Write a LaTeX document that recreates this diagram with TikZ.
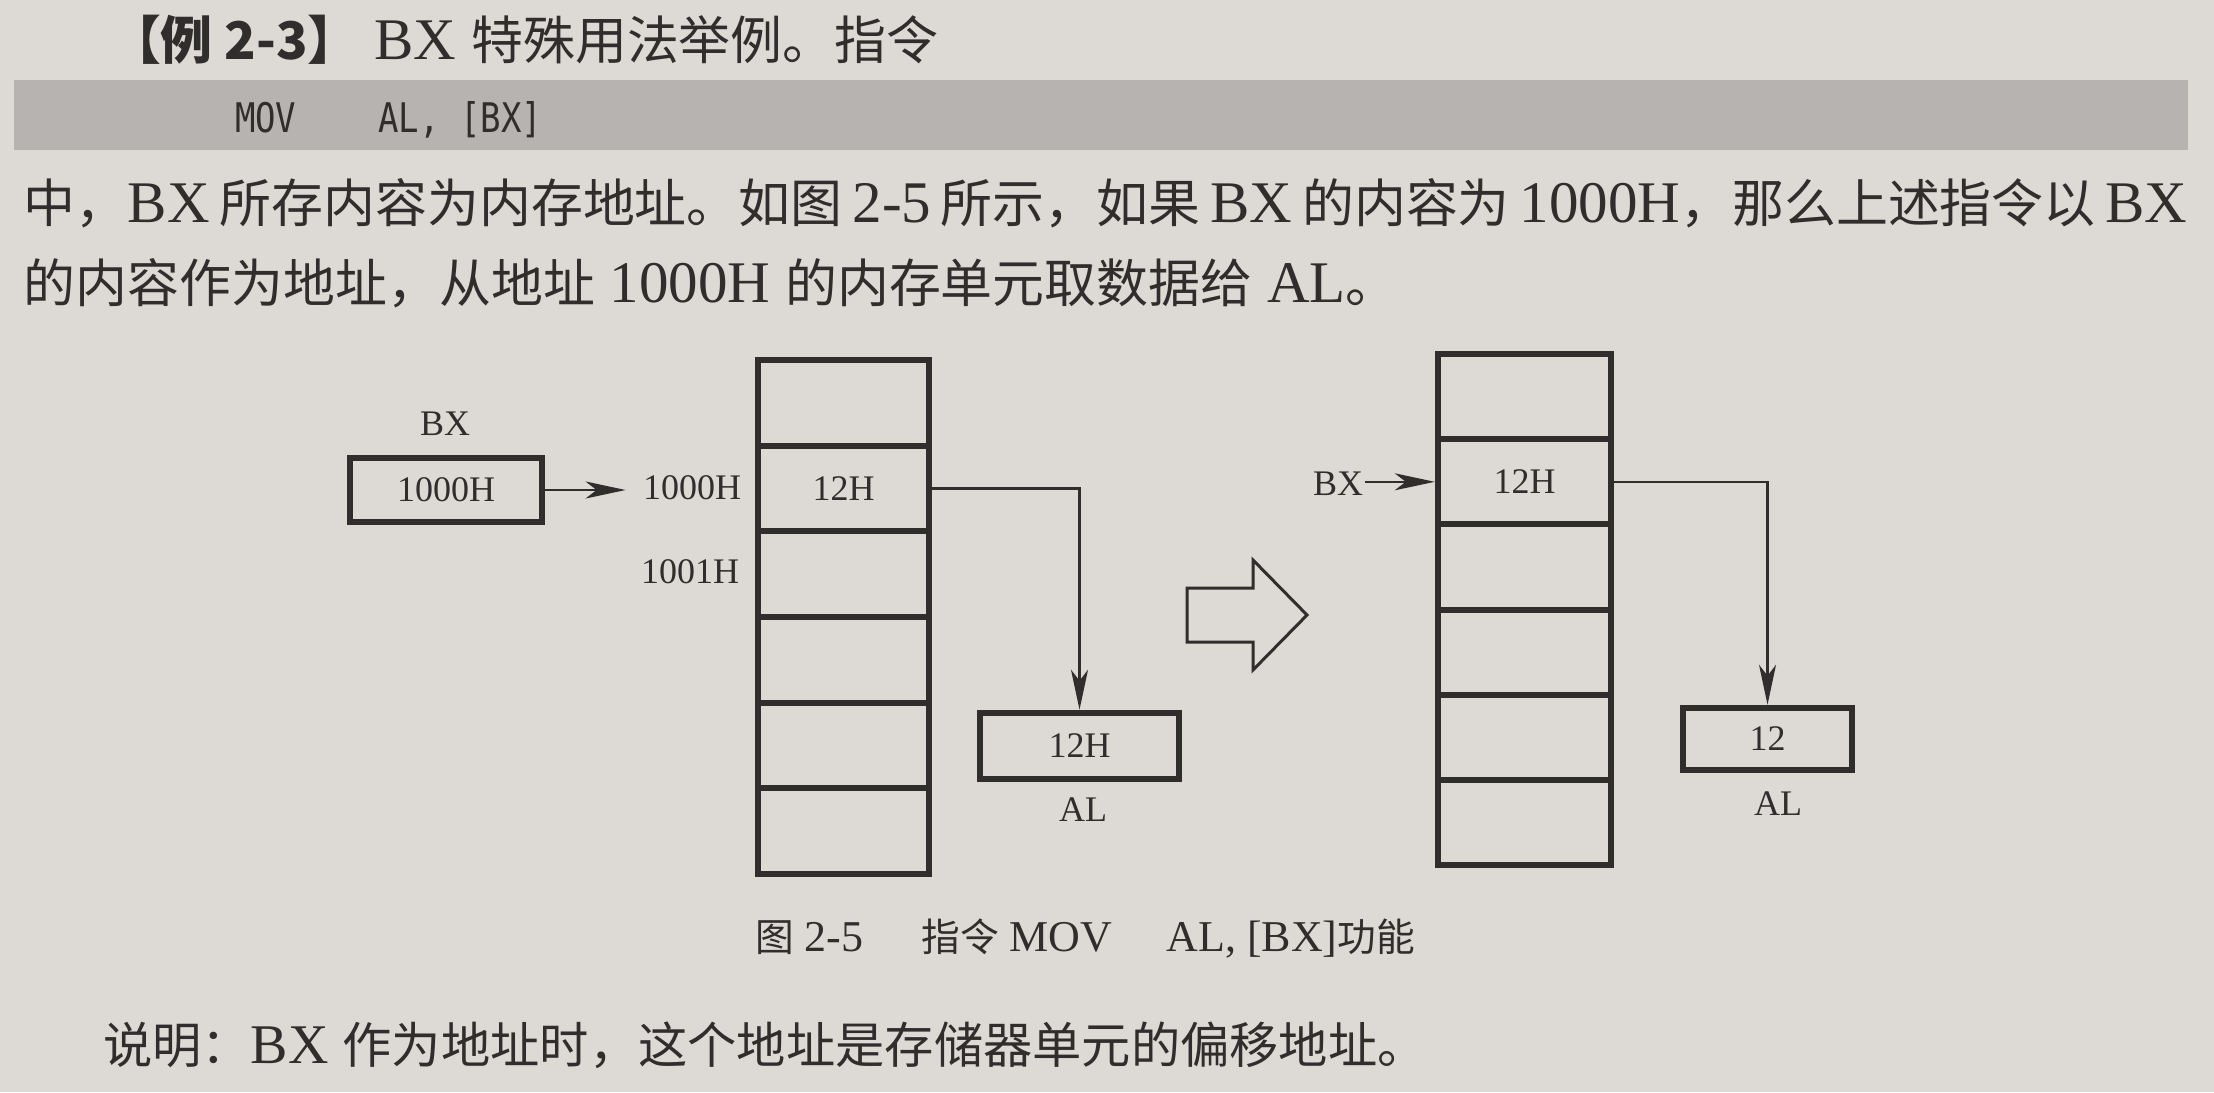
\documentclass[tikz,border=0pt]{standalone}
\usepackage{fontspec}
\usepackage{graphicx}
\setmainfont{Liberation Serif}
\newfontfamily\cjk{Noto Sans CJK SC}[Scale=0.88]
\newfontfamily\codefont{DejaVu Sans Mono}
\usetikzlibrary{arrows.meta}
\definecolor{pagebg}{RGB}{221,218,214}
\definecolor{barbg}{RGB}{182,179,176}
\definecolor{ink}{RGB}{48,45,45}
\begin{document}
\begin{tikzpicture}[x=0.5pt,y=-0.5pt,
  every node/.style={text=ink},
  txt/.style={anchor=base west, inner sep=0pt, outer sep=0pt},
  body/.style={font=\fontsize{29.5}{34}\selectfont},
  dfont/.style={font=\fontsize{18}{20}\selectfont},
  cellA/.style={draw=ink, line width=3pt, minimum width=85.75pt, minimum height=42.83pt, inner sep=0pt, dfont},
  cellB/.style={draw=ink, line width=3pt, minimum width=86.75pt, minimum height=42.6pt, inner sep=0pt, dfont},
  reg/.style={draw=ink, line width=3pt, inner sep=0pt, dfont},
  lbl/.style={inner sep=1pt, dfont},
  conn/.style={draw=ink, line width=1.2pt, -{Stealth[length=20pt,width=8.5pt,inset=5.5pt]}},
]
\useasboundingbox (0,0) rectangle (2214,1092);
\fill[pagebg] (0,0) rectangle (2214,1092);
\fill[barbg] (14,80) rectangle (2188,150);

% text
\node[txt, body] (title) at (109,59) {{\cjk\bfseries 【例 2-3】} BX {\cjk 特殊用法举例。指令}};
\node[txt, font=\codefont\fontsize{17}{20}\selectfont] (code) at (235,132) {\scalebox{1}[1.2]{MOV\ \ \ \ AL, [BX]}};
\node[txt, body] (line1) at (24,222) {\makebox[1081pt][s]{{\cjk 中，}BX {\cjk 所存内容为内存地址。如图} 2-5 {\cjk 所示，如果} BX {\cjk 的内容为} 1000H{\cjk ，那么上述指令以} BX}};
\node[txt, body] (line2) at (24,302) {{\cjk 的内容作为地址，从地址} 1000H {\cjk 的内存单元取数据给} AL{\cjk 。}};
\node[txt, font=\fontsize{22}{26}\selectfont] (cap) at (755,951) {{\cjk 图} 2-5\hspace{29pt}{\cjk 指令} MOV\hspace{27pt}AL, [BX]{\cjk 功能}};
\node[txt, font=\fontsize{28}{32}\selectfont] (note) at (103,1063) {{\cjk 说明：}BX {\cjk 作为地址时，这个地址是存储器单元的偏移地址。}};

% left diagram
\node[lbl] (bxlbl) at (445,424) {BX};
\node[reg, minimum width=96.25pt, minimum height=32.25pt] (bxbox) at (446,490) {1000H};
\node[lbl] (a1000) at (692,488) {1000H};
\node[lbl] (a1001) at (690,572) {1001H};
\foreach \i/\t in {1/,2/12H,3/,4/,5/,6/}
  \node[cellA] (m\i) at (843.5,{402.8+85.67*(\i-1)}) {\t};
\node[reg, minimum width=99.75pt, minimum height=33.25pt] (al1) at (1079.5,746) {12H};
\node[lbl] (al1lbl) at (1083,810) {AL};
\draw[conn, shorten >=7.5pt] (bxbox.east) -- (bxbox.east -| a1000.west);
\draw[conn] (m2.east) -| (al1.north);

% hollow arrow
\draw[ink, line width=1.5pt, line join=miter] (1187,588) -- (1253,588) -- (1253,560) -- (1307,615) -- (1253,670) -- (1253,642) -- (1187,642) -- cycle;

% right diagram
\node[lbl] (bx2) at (1338,484) {BX};
\foreach \i/\t in {1/,2/12H,3/,4/,5/,6/}
  \node[cellB] (n\i) at (1524.5,{396.6+85.2*(\i-1)}) {\t};
\node[reg, minimum width=84.75pt, minimum height=31.25pt] (al2) at (1767.5,739) {12};
\node[lbl] (al2lbl) at (1778,804) {AL};
\draw[conn] (bx2.east |- n2.west) -- (n2.west);
\draw[conn] (n2.east) -| (al2.north);
\end{tikzpicture}
\end{document}
